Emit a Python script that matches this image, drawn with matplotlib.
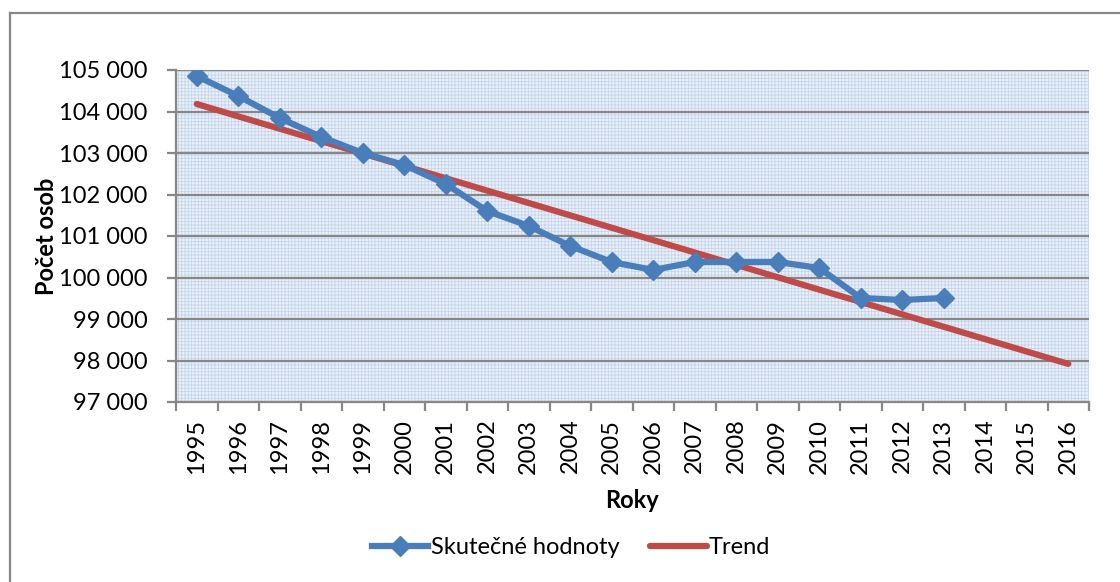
import matplotlib
matplotlib.use("Agg")
import matplotlib.pyplot as plt
from matplotlib.patches import Rectangle
from matplotlib.lines import Line2D
from matplotlib.ticker import FuncFormatter, FixedLocator, NullFormatter

years = ["1995", "1996", "1997", "1998", "1999", "2000", "2001", "2002", "2003",
         "2004", "2005", "2006", "2007", "2008", "2009", "2010", "2011", "2012",
         "2013", "2014", "2015", "2016"]
actual = [104855, 104373, 103843, 103386, 103000, 102711, 102253, 101602, 101241,
          100759, 100373, 100181, 100373, 100373, 100373, 100229, 99506, 99458, 99506]
trend = [104181, 103883, 103585, 103286, 102988, 102690, 102392, 102093, 101795,
         101497, 101199, 100900, 100602, 100304, 100006, 99707, 99409, 99111,
         98813, 98514, 98216, 97918]
y_ticks = [97000, 98000, 99000, 100000, 101000, 102000, 103000, 104000, 105000]

plt.rcParams['font.family'] = ['Lato', 'DejaVu Sans']
plt.rcParams['hatch.linewidth'] = 0.6

BLUE = '#4A7EBB'
RED = '#BE4B48'
GRAY = '#878787'
FS = 17

fig = plt.figure(figsize=(11.2, 5.82), dpi=100)
ax = fig.add_axes([176/1120, 1-402/582, (1089-176)/1120, (402-70)/582])

# patterned plot-area background
ax.set_facecolor('#ebf1f9')
bg = Rectangle((0, 0), 1, 1, transform=ax.transAxes, facecolor='none',
               edgecolor='#c4d4eb', linewidth=0, hatch='+++++', zorder=0)
ax.add_patch(bg)

x_idx = list(range(len(years)))
ax.plot(x_idx[:len(actual)], actual, color=BLUE, lw=4.5, marker='D', ms=10.5,
        solid_joinstyle='round', label='Skutečné hodnoty', zorder=4)
ax.plot(x_idx, trend, color=RED, lw=4.5, solid_capstyle='round',
        label='Trend', zorder=3)

ax.set_xlim(-0.5, len(years) - 0.5)
ax.set_ylim(y_ticks[0], y_ticks[-1])
ax.set_yticks(y_ticks)
ax.yaxis.set_major_formatter(FuncFormatter(lambda v, p: f"{int(v):,}".replace(",", " ")))
ax.grid(axis='y', color=GRAY, lw=1.6, zorder=1)
ax.set_axisbelow(True)

ax.xaxis.set_major_locator(FixedLocator([i - 0.5 for i in range(len(years) + 1)]))
ax.xaxis.set_major_formatter(NullFormatter())
ax.xaxis.set_minor_locator(FixedLocator(x_idx))
ax.set_xticklabels(years, minor=True, rotation=90)
ax.tick_params(axis='x', which='minor', length=0, pad=12, labelsize=FS)
ax.tick_params(axis='x', which='major', length=6.5, width=1.6, color=GRAY)
ax.tick_params(axis='y', length=6.5, width=1.6, color=GRAY, pad=14, labelsize=FS)

for s in ['top', 'right']:
    ax.spines[s].set_visible(False)
for s in ['left', 'bottom']:
    ax.spines[s].set_color(GRAY)
    ax.spines[s].set_linewidth(1.6)

ax.set_ylabel('Počet osob', fontsize=FS, fontweight='bold', labelpad=1)
fig.text(632/1120, 1-500/582, 'Roky', fontsize=FS, fontweight='bold',
         ha='center', va='center')

fig.legend(loc='center', bbox_to_anchor=(571/1120, 1-548/582), ncol=2,
           frameon=False, fontsize=FS, handlelength=2.4, handletextpad=0.1,
           columnspacing=1.3)

# chart-area border (top and left visible)
fig.add_artist(Line2D([10/1120, 1], [1-13/582, 1-13/582], color=GRAY, lw=1.6,
                      transform=fig.transFigure))
fig.add_artist(Line2D([10/1120, 10/1120], [0, 1-13/582], color=GRAY, lw=1.6,
                      transform=fig.transFigure))

fig.savefig('out.png', dpi=100)
